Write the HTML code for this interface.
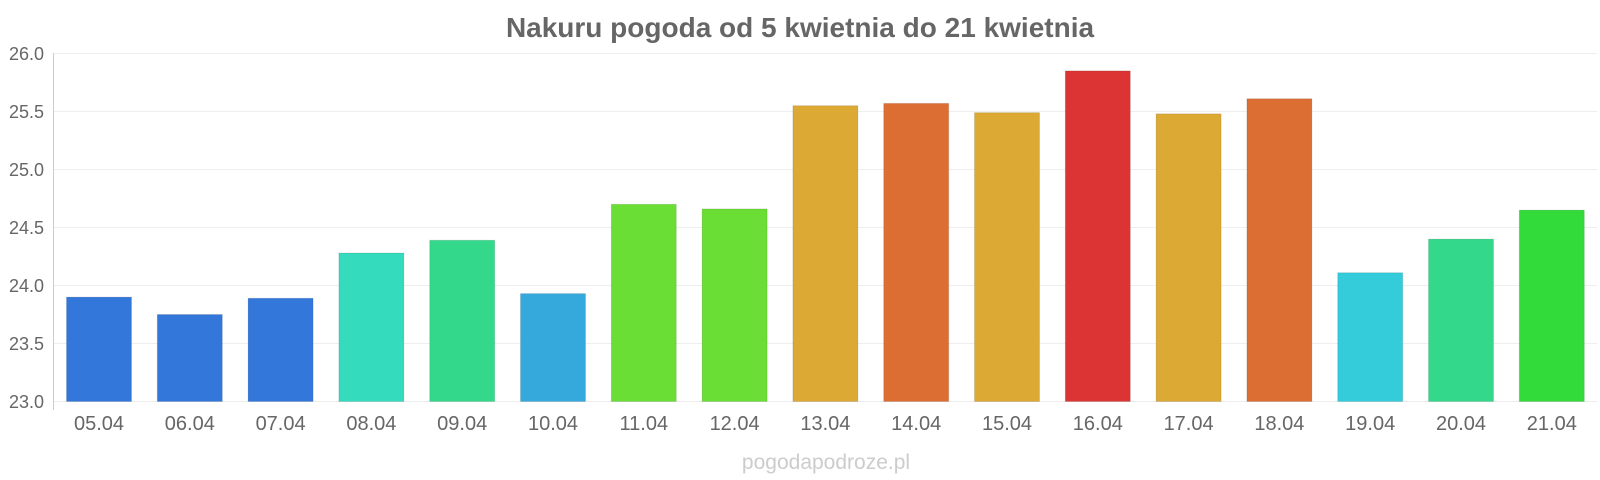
<!DOCTYPE html>
<html><head><meta charset="utf-8"><style>
html,body{margin:0;padding:0;background:#fff;}
svg{display:block;font-family:"Liberation Sans",sans-serif;}
</style></head><body>
<svg width="1600" height="480" viewBox="0 0 1600 480" xmlns="http://www.w3.org/2000/svg">
<text x="800" y="37" text-anchor="middle" font-size="28" font-weight="bold" fill="#666">Nakuru pogoda od 5 kwietnia do 21 kwietnia</text>
<g stroke="#eee" stroke-width="1">
<line x1="53" y1="53.5" x2="1597" y2="53.5"/>
<line x1="53" y1="111.5" x2="1597" y2="111.5"/>
<line x1="53" y1="169.5" x2="1597" y2="169.5"/>
<line x1="53" y1="227.5" x2="1597" y2="227.5"/>
<line x1="53" y1="285.5" x2="1597" y2="285.5"/>
<line x1="53" y1="343.5" x2="1597" y2="343.5"/>
<line x1="53" y1="401.5" x2="1597" y2="401.5"/>
</g>
<line x1="53.5" y1="53" x2="53.5" y2="410" stroke="#ccc"/>
<g font-size="18" fill="#666" text-anchor="end">
<text x="44" y="60">26.0</text>
<text x="44" y="118">25.5</text>
<text x="44" y="176">25.0</text>
<text x="44" y="234">24.5</text>
<text x="44" y="292">24.0</text>
<text x="44" y="350">23.5</text>
<text x="44" y="408">23.0</text>
</g>
<g id="bars" stroke-width="1"></g>
<g id="labels" font-size="20" fill="#666" text-anchor="middle"></g>
<text x="826" y="469" text-anchor="middle" font-size="21" fill="#ccc">pogodapodroze.pl</text>
<script>
var v=[23.9,23.75,23.89,24.28,24.39,23.93,24.7,24.66,25.55,25.57,25.49,25.85,25.48,25.61,24.11,24.4,24.65];
var c=["#3477db","#3477db","#3477db","#35dbbd","#34d88a","#35a9db","#6ade35","#6ade35","#dcaa34","#dc6e34","#dcaa34","#dc3434","#dcaa34","#dc6e34","#34cbdb","#34d88a","#33db3a"];
var ns="http://www.w3.org/2000/svg",b=document.getElementById("bars"),l=document.getElementById("labels");
var L=53.6,w=90.8;
for(var i=0;i<17;i++){
 var cx=L+w*(i+0.5),y=401.5-(v[i]-23)*116;
 var r=document.createElementNS(ns,"rect");
 r.setAttribute("x",cx-32.5);r.setAttribute("y",y);r.setAttribute("width",65);r.setAttribute("height",401.5-y);
 r.setAttribute("fill",c[i]);r.setAttribute("stroke","rgba(0,0,0,0.1)");b.appendChild(r);
 var t=document.createElementNS(ns,"text");t.setAttribute("x",cx);t.setAttribute("y",430);
 t.textContent=(5+i<10?"0":"")+(5+i)+".04";l.appendChild(t);
}
</script>
</svg>
</body></html>
